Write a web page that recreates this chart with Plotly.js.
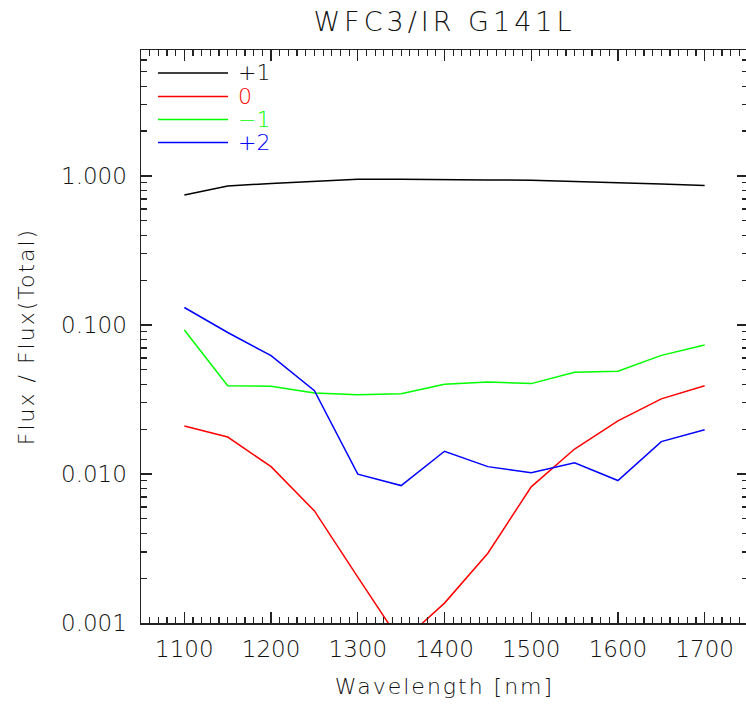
<!DOCTYPE html>
<html>
<head>
<meta charset="utf-8">
<script src="https://cdn.plot.ly/plotly-3.0.1.min.js"></script>
<style>
html, body { margin: 0; padding: 0; background: #fff; overflow: hidden; }
#chart { width: 748px; height: 704px; }
.gtitle { letter-spacing: 4px; }
.xtitle, .ytitle { letter-spacing: 2px; }
</style>
</head>
<body>
<div id="chart"></div>
<script>
// Data
const wavelength = [1100, 1150, 1200, 1250, 1300, 1350, 1400, 1450, 1500, 1550, 1600, 1650, 1700];
const orderPlus1 = [0.746, 0.857, 0.889, 0.921, 0.950, 0.950, 0.940, 0.940, 0.935, 0.921, 0.907, 0.884, 0.862];
const order0     = [0.0210, 0.0177, 0.0112, 0.00565, 0.00203, 0.00074, 0.00136, 0.00294, 0.00820, 0.0147, 0.0227, 0.0319, 0.0391];
const orderMinus1= [0.0924, 0.0391, 0.0388, 0.0350, 0.0340, 0.0346, 0.0400, 0.0414, 0.0404, 0.0481, 0.0490, 0.0625, 0.0733];
const orderPlus2 = [0.131, 0.089, 0.0622, 0.0362, 0.00997, 0.00836, 0.0142, 0.0112, 0.0102, 0.0119, 0.00904, 0.0165, 0.0198];

const seriesNames  = ['+1', '0', '\u22121', '+2'];
const seriesColors = ['#000000', '#ff0000', '#00ff00', '#0000ff'];
const seriesValues = [orderPlus1, order0, orderMinus1, orderPlus2];

const yTickVals = [0.001, 0.01, 0.1, 1];
const yTickText = ['0.001', '0.010', '0.100', '1.000'];

const minorY = [];
for (let e = -3; e <= 0; e++) {
  for (let m = 2; m <= 9; m++) {
    const v = m * Math.pow(10, e);
    if (v <= 7) minorY.push(v);
  }
}

const traces = seriesValues.map((vals, i) => ({
  type: 'scatter',
  mode: 'lines',
  x: wavelength,
  y: vals,
  name: seriesNames[i],
  line: {color: seriesColors[i], width: 1.5},
  showlegend: false
}));

// Plot area geometry (pixels) for the hand-drawn legend
const W = 748, H = 704, L = 141, R = 0, T = 50, B = 80.5;
const pw = W - L - R, ph = H - T - B;
const px = x => (x - L) / pw;
const py = y => (H - B - y) / ph;

const FONT = 'DejaVu Sans';
const FW = 300;
const TXT = '#111';

const legendRows = [73, 96.5, 119.5, 142.5];
const shapes = [], annotations = [];
legendRows.forEach((y, i) => {
  shapes.push({type: 'line', xref: 'paper', yref: 'paper',
    x0: px(158), x1: px(228), y0: py(y), y1: py(y),
    line: {color: seriesColors[i], width: 1.5}});
  annotations.push({xref: 'paper', yref: 'paper', x: px(236), y: py(y),
    xanchor: 'left', yanchor: 'middle', showarrow: false,
    text: seriesNames[i],
    font: {family: FONT, weight: FW, size: 22, color: seriesColors[i] === '#000000' ? TXT : seriesColors[i]}});
});

const axisCommon = {
  showline: true, linecolor: '#222', linewidth: 1.5,
  mirror: 'ticks', ticks: 'inside', ticklen: 11, tickwidth: 1.3, tickcolor: '#222',
  showgrid: false, zeroline: false,
  tickfont: {family: FONT, weight: FW, size: 23, color: TXT}
};

const layout = {
  width: W, height: H,
  margin: {l: L, r: R, t: T, b: B},
  paper_bgcolor: '#fff', plot_bgcolor: '#fff',
  title: {text: 'WFC3/IR G141L', x: 0.5, xref: 'paper', y: 1 - 22 / H, yref: 'container',
          xanchor: 'center', yanchor: 'middle',
          font: {family: FONT, weight: FW, size: 27, color: TXT}},
  xaxis: Object.assign({}, axisCommon, {
    range: [1050, 1750], tickmode: 'linear', tick0: 1000, dtick: 100,
    ticklabelstandoff: 5,
    minor: {ticks: 'inside', ticklen: 6, tickwidth: 1.2, tickcolor: '#222', dtick: 10, tick0: 1000, showgrid: false},
    title: {text: 'Wavelength [nm]', font: {family: FONT, weight: FW, size: 22, color: TXT}, standoff: 17}
  }),
  yaxis: Object.assign({}, axisCommon, {
    type: 'log', range: [-3, Math.log10(7)],
    tickmode: 'array', tickvals: yTickVals, ticktext: yTickText,
    ticklabelstandoff: 8,
    minor: {ticks: 'inside', ticklen: 6, tickwidth: 1.2, tickcolor: '#222', tickvals: minorY, showgrid: false},
    title: {text: 'Flux / Flux(Total)', font: {family: FONT, weight: FW, size: 22, color: TXT}, standoff: 20}
  }),
  shapes: shapes,
  annotations: annotations,
  showlegend: false
};

Plotly.newPlot('chart', traces, layout, {displayModeBar: false, staticPlot: true});
</script>
</body>
</html>
